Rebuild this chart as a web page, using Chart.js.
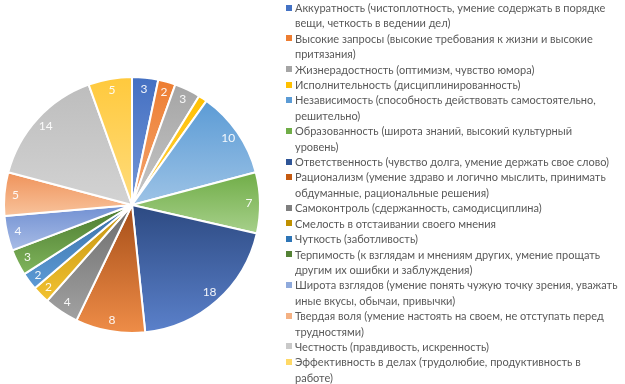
<!DOCTYPE html>
<html><head><meta charset="utf-8">
<script src="https://cdn.jsdelivr.net/npm/chart.js@4/dist/chart.umd.min.js"></script>
<style>
html,body{margin:0;padding:0;background:#fff;}
#wrap{position:relative;width:625px;height:384px;overflow:hidden;}
#c{position:absolute;left:0;top:0;}
#legend{position:absolute;left:285px;top:0;width:340px;font-family:Lato,"Liberation Sans",sans-serif;font-size:11px;line-height:15.4px;color:#595959;}
.it{position:relative;padding-left:10px;}
.mk{position:absolute;left:1px;top:4.5px;width:6px;height:6px;}
</style></head>
<body><div id="wrap"><canvas id="c" width="625" height="384"></canvas><div id="legend"></div></div>
<script>
const categoryLines = [
  ["Аккуратность (чистоплотность, умение содержать в порядке", "вещи, четкость в ведении дел)"],
  ["Высокие запросы (высокие требования к жизни  и высокие", "притязания)"],
  ["Жизнерадостность (оптимизм, чувство юмора)"],
  ["Исполнительность (дисциплинированность)"],
  ["Независимость (способность действовать самостоятельно,", "решительно)"],
  ["Образованность (широта знаний,  высокий культурный", "уровень)"],
  ["Ответственность (чувство долга, умение держать свое слово)"],
  ["Рационализм (умение здраво и логично мыслить, принимать", "обдуманные, рациональные решения)"],
  ["Самоконтроль (сдержанность, самодисциплина)"],
  ["Смелость в отстаивании своего мнения"],
  ["Чуткость (заботливость)"],
  ["Терпимость (к взглядам и мнениям других, умение прощать", "другим их ошибки и заблуждения)"],
  ["Широта взглядов (умение понять чужую точку зрения, уважать", "иные вкусы, обычаи, привычки)"],
  ["Твердая воля (умение настоять на своем, не отступать перед", "трудностями)"],
  ["Честность (правдивость, искренность)"],
  ["Эффективность в делах (трудолюбие, продуктивность в", "работе)"]
];
const values = [3, 2, 3, 1, 10, 7, 18, 8, 4, 2, 2, 3, 4, 5, 14, 5];
const topColors = ["#4470C2","#ED7D31","#A5A5A5","#FFC000","#5B9BD5","#70AD47","#2D4A82","#A64E18","#6C6C6C","#C39210","#3A70A8","#4B7A2F","#7190D2","#EF925A","#BDBDBD","#FFC93C"];
const bottomColors = ["#7496D7","#F4A570","#C6C6C6","#FFD04D","#9DC3E6","#A7D08B","#5B81CB","#EF8D48","#A2A2A2","#F2C231","#5D9BD6","#80B55C","#A8BCE6","#F8C39C","#D3D3D3","#FFDC7D"];
const legendColors = ["#4472C4","#ED7D31","#A5A5A5","#FFC000","#5B9BD5","#70AD47","#2F5597","#C55A11","#7F7F7F","#BF9000","#2E75B6","#548235","#8FAADC","#F4B183","#C9C9C9","#FFD966"];

const categories = categoryLines.map(l => l.join(" "));

// legend (HTML)
const lg = document.getElementById('legend');
categoryLines.forEach((lines, i) => {
  const d = document.createElement('div'); d.className = 'it';
  const m = document.createElement('span'); m.className = 'mk'; m.style.background = legendColors[i];
  d.appendChild(m);
  lines.forEach((t, k) => { if (k) d.appendChild(document.createElement('br')); d.appendChild(document.createTextNode(t)); });
  lg.appendChild(d);
});

function sliceGradient(ctx) {
  const chart = ctx.chart, i = ctx.dataIndex, ca = chart.chartArea;
  if (!ca || i === undefined) return topColors[i] || '#ccc';
  const total = values.reduce((a, b) => a + b, 0);
  let before = 0; for (let k = 0; k < i; k++) before += values[k];
  const a0 = -Math.PI / 2 + before / total * 2 * Math.PI;
  const a1 = -Math.PI / 2 + (before + values[i]) / total * 2 * Math.PI;
  const cx = (ca.left + ca.right) / 2, cy = (ca.top + ca.bottom) / 2;
  const r = Math.min(ca.right - ca.left, ca.bottom - ca.top) / 2;
  let ys = [cy, cy + r * Math.sin(a0), cy + r * Math.sin(a1)];
  for (const q of [-Math.PI / 2, Math.PI / 2, 3 * Math.PI / 2]) if (q > a0 && q < a1) ys.push(cy + r * Math.sin(q));
  const y0 = Math.min(...ys), y1 = Math.max(...ys);
  const g = chart.ctx.createLinearGradient(0, y0, 0, Math.max(y1, y0 + 1));
  g.addColorStop(0, topColors[i]); g.addColorStop(1, bottomColors[i]);
  return g;
}

const valueLabels = {
  id: 'valueLabels',
  afterDatasetsDraw(chart) {
    const c = chart.ctx, meta = chart.getDatasetMeta(0);
    c.save();
    c.font = '12px Lato, "Liberation Sans", sans-serif';
    c.fillStyle = 'rgba(255,255,255,0.92)';
    c.textAlign = 'center'; c.textBaseline = 'middle';
    meta.data.forEach((arc, i) => {
      if (values[i] < 2) return;
      const mid = (arc.startAngle + arc.endAngle) / 2;
      const r = arc.outerRadius - 11;
      c.fillText(String(values[i]), arc.x + r * Math.cos(mid), arc.y + r * Math.sin(mid));
    });
    c.restore();
  }
};

new Chart(document.getElementById('c'), {
  type: 'pie',
  data: { labels: categories, datasets: [{ data: values, backgroundColor: sliceGradient, borderColor: '#ffffff', borderWidth: 2 }] },
  options: {
    responsive: false, animation: false,
    layout: { padding: { left: 3, top: 76, right: 364, bottom: 50 } },
    plugins: { legend: { display: false }, tooltip: { enabled: false } }
  },
  plugins: [valueLabels]
});
</script></body></html>
